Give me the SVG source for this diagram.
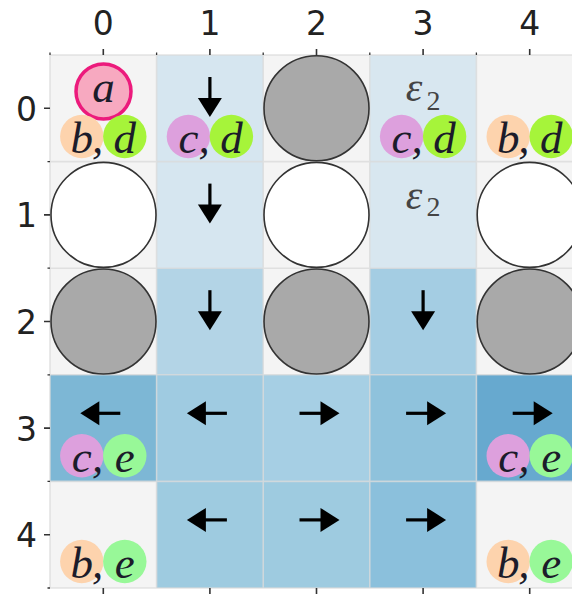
<svg xmlns="http://www.w3.org/2000/svg" xmlns:xlink="http://www.w3.org/1999/xlink" width="572" height="594" viewBox="0 0 572 594">
  <style>
    .bg { fill: #f4f4f4; }
    .grid { stroke: #d9d9d9; stroke-opacity: 0.75; stroke-width: 1.6; fill: none; }
    .tick { stroke: #333; stroke-width: 1.3; }
    .mtick { stroke: #333; stroke-width: 1.6; }
    .axis { font-family: "DejaVu Sans", sans-serif; font-size: 33px; fill: #222; }
    .big { stroke: #333; stroke-width: 1.6; }
    .open { fill: #ffffff; }
    .full { fill: #a9a9a9; }
    .m { font-family: "Liberation Serif", "DejaVu Serif", serif; font-style: italic; font-size: 45px; fill: #1c1c2a; text-anchor: middle; }
    .eps { font-family: "Liberation Serif", "DejaVu Serif", serif; font-style: italic; font-size: 42px; fill: #444; text-anchor: middle; }
    .sub { font-family: "Liberation Serif", "DejaVu Serif", serif; font-size: 28px; fill: #444; text-anchor: middle; }
    .b { fill: #fdd3ad; }
    .c { fill: #dda0dd; }
    .d { fill: #a6f43a; }
    .e { fill: #98f898; }
  </style>
  <defs>
    <!-- right-pointing arrow, origin at the middle of the cell's upper part -->
    <g id="arr">
      <line x1="-17" y1="0" x2="5" y2="0" stroke="#000" stroke-width="3.2"/>
      <polygon points="4,-12 23,0 4,12" fill="#000"/>
    </g>
  </defs>

  <!-- board background -->
  <rect class="bg" x="50" y="55" width="533" height="533"/>

  <!-- shaded cells -->
  <g id="shading">
    <rect x="156.6" y="55" width="106.6" height="213.2" fill="#d6e6f0"/>
    <rect x="369.8" y="55" width="106.6" height="213.2" fill="#d8e7f0"/>
    <rect x="156.6" y="268.2" width="106.6" height="106.6" fill="#b3d4e6"/>
    <rect x="369.8" y="268.2" width="106.6" height="106.6" fill="#a4cde3"/>
    <rect x="50" y="374.8" width="106.6" height="106.6" fill="#7db7d5"/>
    <rect x="156.6" y="374.8" width="106.6" height="106.6" fill="#9fcbe1"/>
    <rect x="263.2" y="374.8" width="106.6" height="106.6" fill="#a6cfe4"/>
    <rect x="369.8" y="374.8" width="106.6" height="106.6" fill="#8fc2dc"/>
    <rect x="476.4" y="374.8" width="106.6" height="106.6" fill="#67a9cf"/>
    <rect x="156.6" y="481.4" width="106.6" height="106.6" fill="#9ecbe0"/>
    <rect x="263.2" y="481.4" width="106.6" height="106.6" fill="#9ecbe0"/>
    <rect x="369.8" y="481.4" width="106.6" height="106.6" fill="#8bc0dc"/>
  </g>

  <!-- grid lines -->
  <path class="grid" d="M50 55V588M156.6 55V588M263.2 55V588M369.8 55V588M476.4 55V588M50 55H583M50 161.6H583M50 268.2H583M50 374.8H583M50 481.4H583M50 588H583"/>

  <!-- axes -->
  <g id="axes">
    <path class="mtick" d="M103.3 49V55M209.9 49V55M316.5 49V55M423.1 49V55M529.7 49V55M44 108.3H50M44 214.9H50M44 321.5H50M44 428.1H50M44 534.7H50M103.3 588V594M209.9 588V594M316.5 588V594M423.1 588V594M529.7 588V594"/>
    <path class="tick" d="M50 52.5V55M156.6 52.5V55M263.2 52.5V55M369.8 52.5V55M476.4 52.5V55M47.5 161.6H50M47.5 268.2H50M47.5 374.8H50M47.5 481.4H50M47.5 588H50"/>
    <g class="axis" text-anchor="middle">
      <text x="103.3" y="35">0</text>
      <text x="209.9" y="35">1</text>
      <text x="316.5" y="35">2</text>
      <text x="423.1" y="35">3</text>
      <text x="529.7" y="35">4</text>
    </g>
    <g class="axis" text-anchor="end">
      <text x="37" y="120.8">0</text>
      <text x="37" y="227.4">1</text>
      <text x="37" y="334">2</text>
      <text x="37" y="440.6">3</text>
      <text x="37" y="547.2">4</text>
    </g>
  </g>

  <!-- row 0 -->
  <g id="cell-0-0">
    <circle cx="103.5" cy="91.5" r="27.5" fill="#f7a9c0" stroke="#ec1a7c" stroke-width="3.5"/>
    <text class="m" x="103.5" y="102">a</text>
    <circle class="b" cx="81.8" cy="136.5" r="21.7"/>
    <circle class="d" cx="124.8" cy="136.5" r="21.7"/>
    <text class="m" x="81.8" y="153">b</text>
    <text class="m" x="97.5" y="153">,</text>
    <text class="m" x="124.8" y="153">d</text>
  </g>
  <g id="cell-1-0">
    <circle class="c" cx="188.4" cy="136.5" r="21.7"/>
    <circle class="d" cx="231.4" cy="136.5" r="21.7"/>
    <text class="m" x="188.4" y="153">c</text>
    <text class="m" x="204" y="153">,</text>
    <text class="m" x="231.4" y="153">d</text>
  </g>
  <g id="cell-2-0">
    <circle class="big full" cx="316.5" cy="108.3" r="52.5"/>
  </g>
  <g id="cell-3-0">
    <text class="eps" x="414" y="101">ε</text>
    <text class="sub" x="433.5" y="109.5">2</text>
    <circle class="c" cx="401.6" cy="136.5" r="21.7"/>
    <circle class="d" cx="444.6" cy="136.5" r="21.7"/>
    <text class="m" x="401.6" y="153">c</text>
    <text class="m" x="417.2" y="153">,</text>
    <text class="m" x="444.6" y="153">d</text>
  </g>
  <g id="cell-4-0">
    <circle class="b" cx="508.2" cy="136.5" r="21.7"/>
    <circle class="d" cx="551.2" cy="136.5" r="21.7"/>
    <text class="m" x="508.2" y="153">b</text>
    <text class="m" x="523.8" y="153">,</text>
    <text class="m" x="551.2" y="153">d</text>
  </g>

  <!-- row 1 -->
  <g id="cell-0-1"><circle class="big open" cx="103.5" cy="214.9" r="52.5"/></g>
  <g id="cell-2-1"><circle class="big open" cx="316.5" cy="214.9" r="52.5"/></g>
  <g id="cell-3-1">
    <text class="eps" x="414" y="208.5">ε</text>
    <text class="sub" x="433.5" y="216">2</text>
  </g>
  <g id="cell-4-1"><circle class="big open" cx="529.7" cy="214.9" r="52.5"/></g>

  <!-- row 2 -->
  <g id="cell-0-2"><circle class="big full" cx="103.5" cy="321.5" r="52.5"/></g>
  <g id="cell-2-2"><circle class="big full" cx="316.5" cy="321.5" r="52.5"/></g>
  <g id="cell-4-2"><circle class="big full" cx="529.7" cy="321.5" r="52.5"/></g>

  <!-- row 3 -->
  <g id="cell-0-3">
    <circle class="c" cx="81.8" cy="455.8" r="21.7"/>
    <circle class="e" cx="124.8" cy="455.8" r="21.7"/>
    <text class="m" x="81.8" y="472">c</text>
    <text class="m" x="97.5" y="472">,</text>
    <text class="m" x="124.8" y="472">e</text>
  </g>
  <g id="cell-4-3">
    <circle class="c" cx="508.2" cy="455.8" r="21.7"/>
    <circle class="e" cx="551.2" cy="455.8" r="21.7"/>
    <text class="m" x="508.2" y="472">c</text>
    <text class="m" x="523.8" y="472">,</text>
    <text class="m" x="551.2" y="472">e</text>
  </g>

  <!-- row 4 -->
  <g id="cell-0-4">
    <circle class="b" cx="81.8" cy="561.5" r="21.7"/>
    <circle class="e" cx="124.8" cy="561.5" r="21.7"/>
    <text class="m" x="81.8" y="578">b</text>
    <text class="m" x="97.5" y="578">,</text>
    <text class="m" x="124.8" y="578">e</text>
  </g>
  <g id="cell-4-4">
    <circle class="b" cx="508.2" cy="561.5" r="21.7"/>
    <circle class="e" cx="551.2" cy="561.5" r="21.7"/>
    <text class="m" x="508.2" y="578">b</text>
    <text class="m" x="523.8" y="578">,</text>
    <text class="m" x="551.2" y="578">e</text>
  </g>

  <!-- move arrows -->
  <g id="arrows">
    <use xlink:href="#arr" transform="translate(209.9 94) rotate(90)"/>
    <use xlink:href="#arr" transform="translate(209.9 200.6) rotate(90)"/>
    <use xlink:href="#arr" transform="translate(209.9 307.2) rotate(90)"/>
    <use xlink:href="#arr" transform="translate(423.1 307.2) rotate(90)"/>
    <use xlink:href="#arr" transform="translate(103.3 413.3) scale(-1 1)"/>
    <use xlink:href="#arr" transform="translate(209.9 413.3) scale(-1 1)"/>
    <use xlink:href="#arr" transform="translate(316.5 413.3)"/>
    <use xlink:href="#arr" transform="translate(423.1 413.3)"/>
    <use xlink:href="#arr" transform="translate(529.7 413.3)"/>
    <use xlink:href="#arr" transform="translate(209.9 519.9) scale(-1 1)"/>
    <use xlink:href="#arr" transform="translate(316.5 519.9)"/>
    <use xlink:href="#arr" transform="translate(423.1 519.9)"/>
  </g>
</svg>
